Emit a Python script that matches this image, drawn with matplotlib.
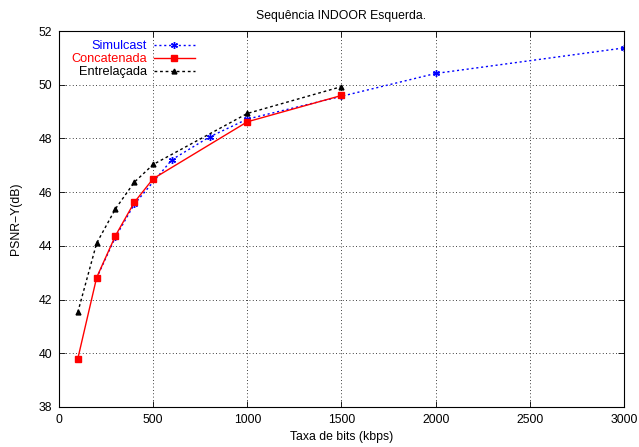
import matplotlib.pyplot as plt
import numpy as np

plt.rcParams['font.family'] = ['Liberation Sans', 'DejaVu Sans']
plt.rcParams['font.size'] = 8.8

# bitrate (kbps) and PSNR-Y (dB)
sim_x = [200, 300, 400, 600, 800, 1000, 1500, 2000, 3000]
sim_y = [42.8, 44.33, 45.55, 47.21, 48.06, 48.72, 49.57, 50.42, 51.37]
conc_x = [100, 200, 300, 400, 500, 1000, 1500]
conc_y = [39.8, 42.82, 44.38, 45.62, 46.5, 48.62, 49.6]
entr_x = [100, 200, 300, 400, 500, 1000, 1500]
entr_y = [41.53, 44.1, 45.38, 46.37, 47.03, 48.93, 49.93]

fig = plt.figure(figsize=(6.39, 4.47), dpi=100)
ax = fig.add_axes([0.0923, 0.0895, 0.8842, 0.8411])

ax.plot(sim_x, sim_y, color='#0000ff', ls=(0, (1.5, 2)), lw=1,
        marker=(6, 2, 0), ms=5, mew=1, label='Simulcast')
ax.plot(conc_x, conc_y, color='#ff0000', ls='-', lw=1,
        marker='s', ms=4.5, label='Concatenada')
ax.plot(entr_x, entr_y, color='black', ls=(0, (2, 2)), lw=1,
        marker='^', ms=3.5, label='Entrelaçada')

ax.set_xlim(0, 3000)
ax.set_ylim(38, 52)
ax.set_xticks(np.arange(0, 3001, 500))
ax.set_yticks(np.arange(38, 53, 2))
ax.tick_params(direction='in', top=True, right=True, length=4, width=0.6, pad=5)
ax.grid(True, color='black', ls=(0, (1, 3)), lw=0.6)
for s in ax.spines.values():
    s.set_linewidth(0.8)

ax.set_title('Sequência INDOOR Esquerda.', fontsize=8.8, pad=9)
ax.set_xlabel('Taxa de bits (kbps)', labelpad=4)
ax.set_ylabel('PSNR−Y(dB)', labelpad=12)

ax.legend(loc='upper left', bbox_to_anchor=(0.002, 1.006), frameon=False,
          markerfirst=False, handlelength=3.2, handletextpad=0.5,
          labelspacing=0.08, fontsize=9.2, labelcolor='linecolor')

fig.savefig('out.png', dpi=100)
